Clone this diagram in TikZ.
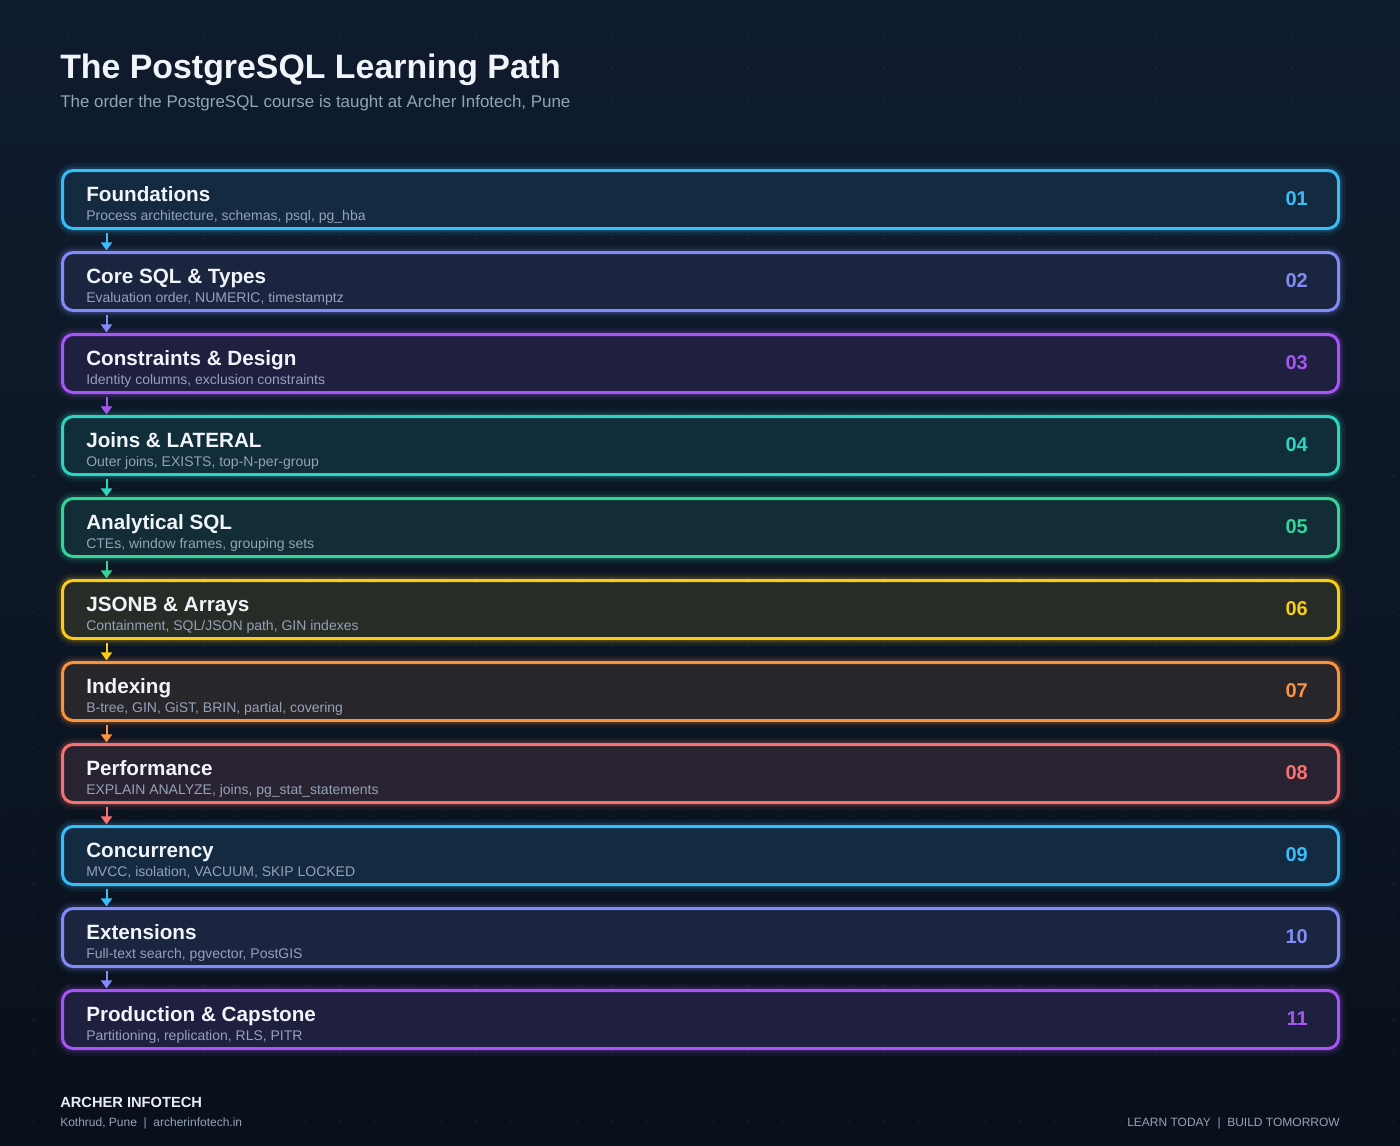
\documentclass[tikz,border=0pt]{standalone}
\usepackage{fontspec}
\setmainfont{Liberation Sans}
\usetikzlibrary{arrows.meta}

\definecolor{bgtop}{HTML}{0F1C2E}
\definecolor{bgbot}{HTML}{09101B}
\definecolor{bgmid}{HTML}{0E1829}
\definecolor{dotc}{HTML}{3A495E}
\definecolor{titletext}{HTML}{F1F5F9}
\definecolor{subtext}{HTML}{94A3B8}
\definecolor{sky}{HTML}{38BDF8}
\definecolor{indigo}{HTML}{818CF8}
\definecolor{purple}{HTML}{A855F7}
\definecolor{teal}{HTML}{2DD4BF}
\definecolor{emerald}{HTML}{34D399}
\definecolor{yellow}{HTML}{FACC15}
\definecolor{orange}{HTML}{FB923C}
\definecolor{red}{HTML}{F87171}

\begin{document}
\begin{tikzpicture}[x=0.75pt, y=-0.75pt, node distance=61.5pt,
>={Triangle[length=6pt,width=8.25pt]}]
\tikzset{
  stage/.style={draw=#1, fill=#1!11!bgmid, line width=2.25pt,
    rounded corners=8pt, minimum width=957pt, minimum height=43.5pt,
    inner sep=0pt, outer sep=0pt,
    preaction={draw=#1, draw opacity=0.07, line width=10.5pt},
    preaction={draw=#1, draw opacity=0.14, line width=6pt}},
  num/.style={anchor=base east, inner sep=0pt, text=#1,
    font=\bfseries\fontsize{15pt}{18pt}\selectfont},
  link/.style={->, draw=#1, fill=#1, line width=1.5pt,
    shorten <=3.4pt, shorten >=1.6pt}
}
\tikzstyle{heading}=[anchor=base west, inner sep=0pt, text=titletext,
  font=\bfseries\fontsize{15.5pt}{18pt}\selectfont]
\tikzstyle{blurb}=[anchor=base west, inner sep=0pt, text=subtext,
  font=\fontsize{10.5pt}{12pt}\selectfont]

\useasboundingbox (0,0) rectangle (1400,1146);
\shade[top color=bgtop, bottom color=bgbot] (0,0) rectangle (1400,1146);
\foreach \i in {0,...,41}
  \foreach \j in {0,...,33}
    \fill[dotc] (34*\i,34*\j) circle (0.5pt);

% header
\node[anchor=base west, inner sep=0pt, text=titletext,
  font=\bfseries\fontsize{25.4pt}{30pt}\selectfont] (title) at (60,78)
  {The PostgreSQL Learning Path};
\node[anchor=base west, inner sep=0pt, text=subtext,
  font=\fontsize{12.7pt}{15pt}\selectfont] (subtitle) at (60,107)
  {The order the PostgreSQL course is taught at Archer Infotech, Pune};

% stages
\node[stage=sky]     (s1) at (700.5,199.5) {};
\node[stage=indigo]  (s2) [below of=s1] {};
\node[stage=purple]  (s3) [below of=s2] {};
\node[stage=teal]    (s4) [below of=s3] {};
\node[stage=emerald] (s5) [below of=s4] {};
\node[stage=yellow]  (s6) [below of=s5] {};
\node[stage=orange]  (s7) [below of=s6] {};
\node[stage=red]     (s8) [below of=s7] {};
\node[stage=sky]     (s9) [below of=s8] {};
\node[stage=indigo]  (s10) [below of=s9] {};
\node[stage=purple]  (s11) [below of=s10] {};

\node[heading] (h1) at ([shift={(23.5,1.5)}]s1.west) {Foundations};
\node[blurb]   (d1) at ([shift={(23.5,20.5)}]s1.west)
  {Process architecture, schemas, psql, pg\_hba};
\node[num=sky] (n1) at ([shift={(-30.5,5.5)}]s1.east) {01};

\node[heading] (h2) at ([shift={(23.5,1.5)}]s2.west) {Core SQL \& Types};
\node[blurb]   (d2) at ([shift={(23.5,20.5)}]s2.west)
  {Evaluation order, NUMERIC, timestamptz};
\node[num=indigo] (n2) at ([shift={(-30.5,5.5)}]s2.east) {02};

\node[heading] (h3) at ([shift={(23.5,1.5)}]s3.west) {Constraints \& Design};
\node[blurb]   (d3) at ([shift={(23.5,20.5)}]s3.west)
  {Identity columns, exclusion constraints};
\node[num=purple] (n3) at ([shift={(-30.5,5.5)}]s3.east) {03};

\node[heading] (h4) at ([shift={(23.5,1.5)}]s4.west) {Joins \& LATERAL};
\node[blurb]   (d4) at ([shift={(23.5,20.5)}]s4.west)
  {Outer joins, EXISTS, top-N-per-group};
\node[num=teal] (n4) at ([shift={(-30.5,5.5)}]s4.east) {04};

\node[heading] (h5) at ([shift={(23.5,1.5)}]s5.west) {Analytical SQL};
\node[blurb]   (d5) at ([shift={(23.5,20.5)}]s5.west)
  {CTEs, window frames, grouping sets};
\node[num=emerald] (n5) at ([shift={(-30.5,5.5)}]s5.east) {05};

\node[heading] (h6) at ([shift={(23.5,1.5)}]s6.west) {JSONB \& Arrays};
\node[blurb]   (d6) at ([shift={(23.5,20.5)}]s6.west)
  {Containment, SQL/JSON path, GIN indexes};
\node[num=yellow] (n6) at ([shift={(-30.5,5.5)}]s6.east) {06};

\node[heading] (h7) at ([shift={(23.5,1.5)}]s7.west) {Indexing};
\node[blurb]   (d7) at ([shift={(23.5,20.5)}]s7.west)
  {B-tree, GIN, GiST, BRIN, partial, covering};
\node[num=orange] (n7) at ([shift={(-30.5,5.5)}]s7.east) {07};

\node[heading] (h8) at ([shift={(23.5,1.5)}]s8.west) {Performance};
\node[blurb]   (d8) at ([shift={(23.5,20.5)}]s8.west)
  {EXPLAIN ANALYZE, joins, pg\_stat\_statements};
\node[num=red] (n8) at ([shift={(-30.5,5.5)}]s8.east) {08};

\node[heading] (h9) at ([shift={(23.5,1.5)}]s9.west) {Concurrency};
\node[blurb]   (d9) at ([shift={(23.5,20.5)}]s9.west)
  {MVCC, isolation, VACUUM, SKIP LOCKED};
\node[num=sky] (n9) at ([shift={(-30.5,5.5)}]s9.east) {09};

\node[heading] (h10) at ([shift={(23.5,1.5)}]s10.west) {Extensions};
\node[blurb]   (d10) at ([shift={(23.5,20.5)}]s10.west)
  {Full-text search, pgvector, PostGIS};
\node[num=indigo] (n10) at ([shift={(-30.5,5.5)}]s10.east) {10};

\node[heading] (h11) at ([shift={(23.5,1.5)}]s11.west) {Production \& Capstone};
\node[blurb]   (d11) at ([shift={(23.5,20.5)}]s11.west)
  {Partitioning, replication, RLS, PITR};
\node[num=purple] (n11) at ([shift={(-30.5,5.5)}]s11.east) {11};

% links
\draw[link=sky]     ([xshift=33pt]s1.south west) -- ([xshift=33pt]s2.north west);
\draw[link=indigo]  ([xshift=33pt]s2.south west) -- ([xshift=33pt]s3.north west);
\draw[link=purple]  ([xshift=33pt]s3.south west) -- ([xshift=33pt]s4.north west);
\draw[link=teal]    ([xshift=33pt]s4.south west) -- ([xshift=33pt]s5.north west);
\draw[link=emerald] ([xshift=33pt]s5.south west) -- ([xshift=33pt]s6.north west);
\draw[link=yellow]  ([xshift=33pt]s6.south west) -- ([xshift=33pt]s7.north west);
\draw[link=orange]  ([xshift=33pt]s7.south west) -- ([xshift=33pt]s8.north west);
\draw[link=red]     ([xshift=33pt]s8.south west) -- ([xshift=33pt]s9.north west);
\draw[link=sky]     ([xshift=33pt]s9.south west) -- ([xshift=33pt]s10.north west);
\draw[link=indigo]  ([xshift=33pt]s10.south west) -- ([xshift=33pt]s11.north west);

% footer
\node[anchor=base west, inner sep=0pt, text=titletext!92!subtext,
  font=\bfseries\fontsize{11pt}{13pt}\selectfont] (brand) at (60,1107.5)
  {ARCHER INFOTECH};
\node[anchor=base west, inner sep=0pt, text=subtext,
  font=\fontsize{9pt}{11pt}\selectfont] (place) at (60,1126)
  {Kothrud, Pune \ \textbar\ \ archerinfotech.in};
\node[anchor=base east, inner sep=0pt, text=subtext,
  font=\fontsize{9pt}{11pt}\selectfont] (motto) at (1340,1126)
  {LEARN TODAY \ \textbar\ \ BUILD TOMORROW};
\end{tikzpicture}
\end{document}
